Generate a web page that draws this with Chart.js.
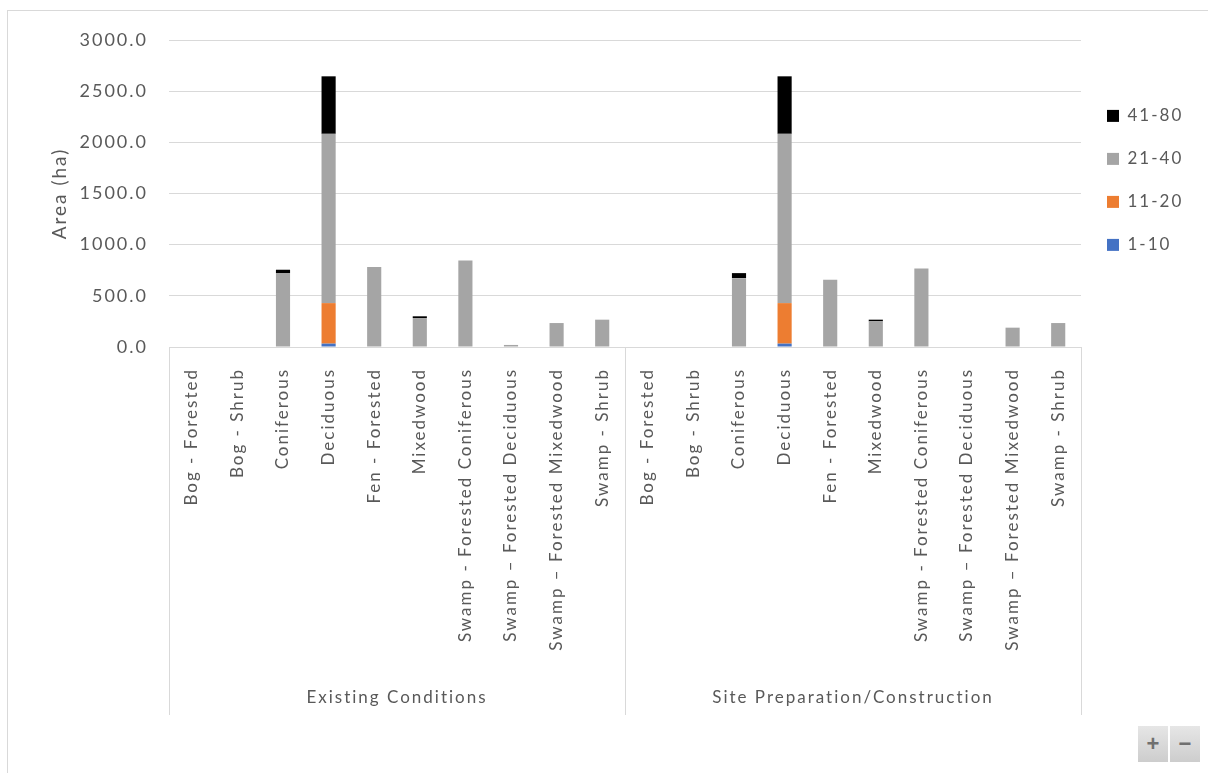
<!DOCTYPE html>
<html>
<head>
<meta charset="utf-8">
<script src="https://cdn.jsdelivr.net/npm/chart.js"></script>
<style>
  html, body { margin: 0; padding: 0; background: #fff; overflow: hidden; }
  #frame { position: absolute; left: 7px; top: 10px; width: 1400px; height: 1000px; border: 1px solid #d9d9d9; }
  #myChart { position: absolute; left: 0; top: 0; }
  .zoom { position: absolute; top: 726px; width: 30px; height: 36px; background: linear-gradient(#e6e6e6, #cdcdcd); color: #707070; font: bold 22px Arial, sans-serif; text-align: center; line-height: 35px; }
</style>
</head>
<body>
<div id="frame"></div>
<canvas id="myChart" width="1208" height="773"></canvas>
<div class="zoom" style="left:1138px">+</div>
<div class="zoom" style="left:1170px">&minus;</div>
<script>
// habitat types, repeated for each project phase
const categories = ['Bog - Forested', 'Bog - Shrub', 'Coniferous', 'Deciduous', 'Fen - Forested', 'Mixedwood',
  'Swamp - Forested Coniferous', 'Swamp \u2013 Forested Deciduous', 'Swamp \u2013 Forested Mixedwood', 'Swamp - Shrub'];
const groups = ['Existing Conditions', 'Site Preparation/Construction'];

// area (ha) per age class, existing conditions first then site preparation
const age1to10  = [0, 0, 0, 33, 0, 0, 0, 0, 0, 0,    0, 0, 0, 33, 0, 0, 0, 0, 0, 0];
const age11to20 = [0, 0, 0, 396, 0, 0, 0, 0, 0, 0,   0, 0, 0, 396, 0, 0, 0, 0, 0, 0];
const age21to40 = [0, 0, 722, 1654, 781, 283, 846, 20, 234, 267,   0, 0, 673, 1654, 658, 251, 768, 0, 189, 234];
const age41to80 = [0, 0, 33, 562, 0, 17, 0, 0, 0, 0,  0, 0, 49, 562, 0, 16, 0, 0, 0, 0];

const labels = groups.flatMap(() => categories);
const textColor = '#595959';
const gridColor = '#d9d9d9';

Chart.defaults.font.family = 'Lato';

// the exported chart has widely spaced text
const spacing = {
  id: 'spacing',
  beforeUpdate(chart) { chart.ctx.letterSpacing = '2px'; },
  beforeLayout(chart) {
    const legend = chart.legend;
    if (legend && !legend.fitWrapped) {
      const fit = legend.fit;
      legend.fit = function () { fit.call(this); this.width = 127; };
      legend.fitWrapped = true;
    }
  },
  beforeDraw(chart) { chart.ctx.letterSpacing = '2px'; }
};

// second level of the category axis: phase names and separators
const groupAxis = {
  id: 'groupAxis',
  afterDraw(chart) {
    const c = chart.ctx;
    const x = chart.scales.x;
    const area = chart.chartArea;
    const n = categories.length;
    c.save();
    c.strokeStyle = gridColor;
    c.lineWidth = 1;
    for (let i = 0; i <= groups.length; i++) {
      const px = Math.round(x.getPixelForValue(i * n - 0.5)) + 0.5;
      c.beginPath();
      c.moveTo(px, area.bottom);
      c.lineTo(px, area.bottom + 368);
      c.stroke();
    }
    c.fillStyle = textColor;
    c.font = '17px Lato';
    c.textAlign = 'center';
    c.textBaseline = 'middle';
    groups.forEach(function (g, i) {
      const mid = (x.getPixelForValue(i * n - 0.5) + x.getPixelForValue((i + 1) * n - 0.5)) / 2;
      c.fillText(g, mid, area.bottom + 351);
    });
    c.restore();
  }
};

const ctx = document.getElementById('myChart').getContext('2d');

function barSet(label, data, color) {
  return {
    label: label,
    data: data,
    backgroundColor: color,
    borderWidth: 0,
    barPercentage: 0.31,
    categoryPercentage: 1.0
  };
}

var myChart = new Chart(ctx, {
  type: 'bar',
  data: {
    labels: labels,
    datasets: [
      barSet('1-10', age1to10, '#4472C4'),
      barSet('11-20', age11to20, '#ED7D31'),
      barSet('21-40', age21to40, '#A5A5A5'),
      barSet('41-80', age41to80, '#000000')
    ]
  },
  options: {
    responsive: false,
    animation: false,
    layout: { padding: { top: 40, left: 0, right: 0, bottom: 0 } },
    plugins: {
      tooltip: { enabled: false },
      legend: {
        position: 'right',
        align: 'start',
        reverse: true,
        title: { display: true, text: '', padding: { top: 27, bottom: 0 } },
        labels: {
          boxWidth: 12,
          boxHeight: 12,
          padding: 26,
          color: textColor,
          font: { size: 17 }
        }
      }
    },
    scales: {
      x: {
        stacked: true,
        grid: { display: false },
        border: { display: false },
        ticks: {
          autoSkip: false,
          minRotation: 90,
          maxRotation: 90,
          padding: 13,
          color: textColor,
          font: { size: 17 }
        },
        afterFit(scale) { scale.height = 426; }
      },
      y: {
        stacked: true,
        min: 0,
        max: 3000,
        grid: { color: gridColor, drawTicks: false },
        border: { display: false },
        ticks: {
          stepSize: 500,
          padding: 21,
          color: textColor,
          font: { size: 18 },
          callback: function (v) { return v.toFixed(1); }
        },
        title: {
          display: true,
          text: 'Area (ha)',
          color: textColor,
          font: { size: 19 },
          padding: { top: 48, bottom: 0 }
        },
        afterFit(scale) { scale.width = 169; }
      }
    }
  },
  plugins: [spacing, groupAxis]
});
</script>
</body>
</html>
